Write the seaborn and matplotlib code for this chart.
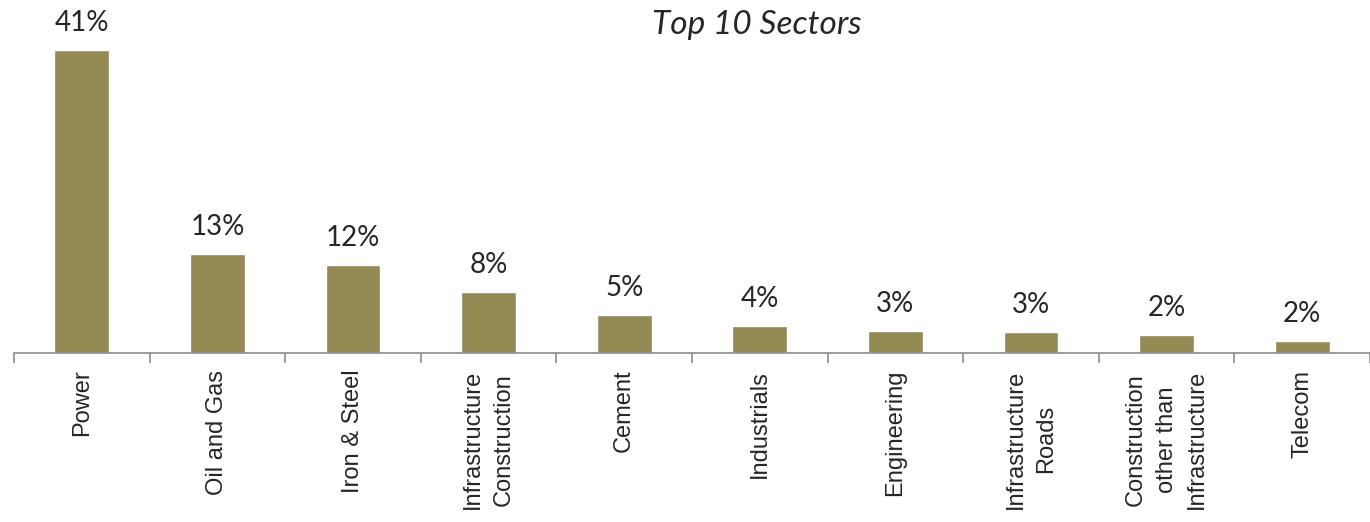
import matplotlib
matplotlib.use("Agg")
import matplotlib.pyplot as plt
import seaborn as sns
import pandas as pd

categories = ["Power", "Oil and Gas", "Iron & Steel", "Infrastructure\nConstruction",
              "Cement", "Industrials", "Engineering", "Infrastructure\nRoads",
              "Construction\nother than\nInfrastructure", "Telecom"]
values = [41.0, 13.4, 11.9, 8.25, 5.1, 3.65, 2.98, 2.84, 2.44, 1.62]
value_labels = ["41%", "13%", "12%", "8%", "5%", "4%", "3%", "3%", "2%", "2%"]
title = "Top 10 Sectors"

sns.set_style("white")
plt.rcParams["font.family"] = ["Liberation Sans", "DejaVu Sans"]

df = pd.DataFrame({"sector": categories, "share": values})

fig = plt.figure(figsize=(13.7, 5.22), dpi=100)
ax = fig.add_axes([14 / 1370, (522 - 353) / 522, 1 - 14 / 1370, 353 / 522])

sns.barplot(data=df, x="sector", y="share", color="#948A54", saturation=1,
            width=0.405, ax=ax)

ax.set_xlim(-0.5, 9.434)
ax.set_ylim(0, 47.77)
ax.set_xlabel("")
ax.set_ylabel("")
ax.set_yticks([])

for s in ["top", "right", "left"]:
    ax.spines[s].set_visible(False)
ax.spines["bottom"].set_color("#8c8c8c")
ax.spines["bottom"].set_linewidth(1.2)

ax.set_xticks(range(len(categories)))
ax.set_xticklabels(categories, rotation=90, fontsize=17, ha="center", va="top",
                   multialignment="center", linespacing=1.5)
ax.tick_params(axis="x", which="major", length=0, pad=12)
ax.set_xticks([i - 0.5 for i in range(len(categories) + 1)], minor=True)
ax.tick_params(axis="x", which="minor", length=7, width=1.2, color="#8c8c8c",
               direction="out", bottom=True)

for i, (v, lab) in enumerate(zip(values, value_labels)):
    ax.annotate(lab, (i, v), xytext=(0, 10), textcoords="offset points",
                ha="center", va="bottom", fontsize=20, family=["Lato", "DejaVu Sans"])

fig.text(757 / 1370, 1 - 25 / 522, title, ha="center", va="center", fontsize=24,
         style="italic", family=["Lato", "DejaVu Sans"])

fig.savefig("out.png", dpi=100)
